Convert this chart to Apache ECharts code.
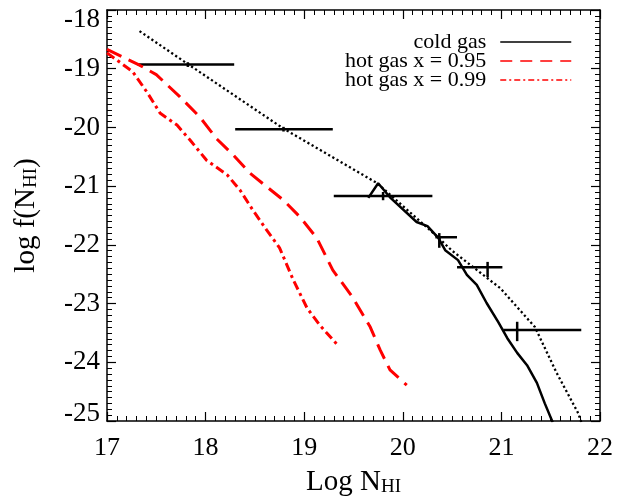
<!DOCTYPE html>
<html>
<head>
<meta charset="utf-8">
<script src="https://cdn.jsdelivr.net/npm/echarts@6/dist/echarts.min.js"></script>
<style>
  html, body { margin: 0; padding: 0; background: #fff; }
  #chart { width: 622px; height: 499px; }
</style>
</head>
<body>
<div id="chart"></div>
<script>
// cold gas (solid)
const coldX = [19.65, 19.75, 19.87, 20.14, 20.25, 20.36, 20.43, 20.56, 20.65, 20.75, 20.85, 20.97, 21.06, 21.16, 21.26, 21.36, 21.44, 21.52];
const coldY = [-21.2, -20.95, -21.19, -21.61, -21.68, -21.88, -22.09, -22.26, -22.51, -22.68, -22.99, -23.32, -23.59, -23.84, -24.05, -24.35, -24.7, -25.02];

// dotted reference curve
const dotX = [17.33, 17.82, 18.79, 19.74, 20.31, 20.5, 20.99, 21.34, 21.56, 21.78, 21.81];
const dotY = [-18.36, -18.92, -20.02, -20.95, -21.8, -22.1, -22.74, -23.4, -24.18, -24.87, -25.02];

// hot gas x = 0.95 (dashed)
const hot95X = [17.0, 17.33, 17.5, 17.74, 17.94, 18.11, 18.28, 18.45, 18.62, 18.79, 18.96, 19.13, 19.29, 19.49, 19.67, 19.77, 19.87, 20.04];
const hot95Y = [-18.67, -18.94, -19.1, -19.48, -19.82, -20.19, -20.47, -20.78, -21.01, -21.24, -21.53, -21.89, -22.43, -22.89, -23.4, -23.79, -24.13, -24.39];

// hot gas x = 0.99 (dash-dot)
const hot99X = [17.0, 17.26, 17.41, 17.54, 17.71, 17.84, 18.01, 18.22, 18.35, 18.48, 18.62, 18.75, 18.89, 19.03, 19.16, 19.34];
const hot99Y = [-18.73, -19.05, -19.41, -19.76, -19.96, -20.21, -20.56, -20.81, -21.07, -21.41, -21.75, -22.05, -22.6, -23.08, -23.37, -23.71];

// observed points with error bars
const errX = [17.82, 18.79, 19.80, 20.37, 20.86, 21.16];
const errY = [-18.93, -20.03, -21.17, -21.87, -22.38, -23.45];
const errXLo = [17.31, 18.30, 19.30, 20.33, 20.55, 21.02];
const errXHi = [18.29, 19.29, 20.30, 20.55, 21.01, 21.81];
const errYLo = [-18.97, -20.07, -21.24, -22.05, -22.55, -23.64];
const errYHi = [-18.89, -19.99, -21.10, -21.80, -22.29, -23.31];

const xTicks = [17, 18, 19, 20, 21, 22];
const yTicks = [-25, -24, -23, -22, -21, -20, -19, -18];

const FONT = 'Liberation Serif';
const zip = (a, b) => a.map((v, i) => [v, b[i]]);

const chart = echarts.init(document.getElementById('chart'), null, { renderer: 'canvas' });

const tickCommon = {
  axisLine: { show: true, onZero: false, lineStyle: { color: '#000', width: 1.5 } },
  axisTick: { show: true, inside: true, length: 9, lineStyle: { color: '#000', width: 1.2 } },
  minorTick: { show: true, splitNumber: 10, length: 5, lineStyle: { color: '#000', width: 1 } },
  splitLine: { show: false },
  minorSplitLine: { show: false }
};

chart.setOption({
  animation: false,
  backgroundColor: '#fff',
  grid: { left: 107, right: 22, top: 10, bottom: 78, containLabel: false, outerBoundsMode: 'none' },
  legend: {
    orient: 'vertical',
    right: 45,
    top: 26,
    align: 'right',
    itemWidth: 71,
    itemHeight: 19,
    itemGap: -3,
    data: [
      { name: 'cold gas', lineStyle: { width: 1.5 } },
      { name: 'hot gas x = 0.95', lineStyle: { width: 1.5, type: [12, 8] } },
      { name: 'hot gas x = 0.99', lineStyle: { width: 1.5, type: [6, 3, 2, 3] } }
    ],
    itemStyle: { opacity: 0 },
    textStyle: { fontFamily: FONT, fontSize: 22, color: '#000', lineHeight: 19, padding: [0, 9, 0, 0] }
  },
  xAxis: [{
    type: 'value', min: 17, max: 22, interval: 1, position: 'bottom',
    ...tickCommon,
    axisLabel: {
      fontFamily: FONT, fontSize: 26, color: '#000', margin: 14,
      formatter: v => xTicks.includes(v) ? String(v) : ''
    },
    name: '{a|Log N}{b|HI}',
    nameLocation: 'middle',
    nameGap: 46,
    nameTextStyle: {
      rich: {
        a: { fontFamily: FONT, fontSize: 29, color: '#000', lineHeight: 30 },
        b: { fontFamily: FONT, fontSize: 19, color: '#000', lineHeight: 8, verticalAlign: 'bottom' }
      }
    }
  }, {
    type: 'value', min: 17, max: 22, interval: 1, position: 'top',
    ...tickCommon,
    axisLabel: { show: false }
  }],
  yAxis: [{
    type: 'value', min: -25, max: -18, interval: 1, position: 'left',
    ...tickCommon,
    axisLabel: {
      fontFamily: FONT, fontSize: 27, color: '#000', margin: 7,
      formatter: v => {
        if (!yTicks.includes(v)) return '';
        if (v === -18) return '{t|' + v + '}';
        if (v === -25) return '{b|' + v + '}';
        return String(v);
      },
      rich: {
        t: { fontFamily: FONT, fontSize: 27, color: '#000', padding: [20, 0, 0, 0] },
        b: { fontFamily: FONT, fontSize: 27, color: '#000', padding: [0, 0, 14, 0] }
      }
    },
    name: '{a|log f(N}{b|HI}{a|)}',
    nameLocation: 'middle',
    nameRotate: 90,
    nameGap: 66,
    nameTextStyle: {
      rich: {
        a: { fontFamily: FONT, fontSize: 29, color: '#000', lineHeight: 30 },
        b: { fontFamily: FONT, fontSize: 19, color: '#000', lineHeight: 8, verticalAlign: 'bottom' }
      }
    }
  }, {
    type: 'value', min: -25, max: -18, interval: 1, position: 'right',
    ...tickCommon,
    axisLabel: { show: false }
  }],
  series: [{
    name: 'cold gas',
    type: 'line',
    data: zip(coldX, coldY),
    symbol: 'none',
    lineStyle: { color: '#000', width: 2.5 },
    itemStyle: { color: '#000' }
  }, {
    name: 'hot gas x = 0.95',
    type: 'line',
    data: zip(hot95X, hot95Y),
    symbol: 'none',
    lineStyle: { color: '#ff0000', width: 3, type: [16, 8] },
    itemStyle: { color: '#ff0000' }
  }, {
    name: 'hot gas x = 0.99',
    type: 'line',
    data: zip(hot99X, hot99Y),
    symbol: 'none',
    lineStyle: { color: '#ff0000', width: 3, type: [9, 4, 3, 4] },
    itemStyle: { color: '#ff0000' }
  }, {
    name: 'model',
    type: 'line',
    data: zip(dotX, dotY),
    symbol: 'none',
    lineStyle: { color: '#000', width: 2.3, type: [2.2, 2.6] }
  }, {
    name: 'data',
    type: 'custom',
    data: errX.map((x, i) => [x, errY[i], errXLo[i], errXHi[i], errYLo[i], errYHi[i]]),
    renderItem: (params, api) => {
      const c = api.coord([api.value(0), api.value(1)]);
      const l = api.coord([api.value(2), api.value(1)]);
      const r = api.coord([api.value(3), api.value(1)]);
      const lo = api.coord([api.value(0), api.value(4)]);
      const hi = api.coord([api.value(0), api.value(5)]);
      const style = { stroke: '#000', lineWidth: 2.5, fill: null };
      return {
        type: 'group',
        children: [
          { type: 'line', shape: { x1: l[0], y1: c[1], x2: r[0], y2: c[1] }, style },
          { type: 'line', shape: { x1: c[0], y1: lo[1], x2: c[0], y2: hi[1] }, style }
        ]
      };
    }
  }]
});
</script>
</body>
</html>
